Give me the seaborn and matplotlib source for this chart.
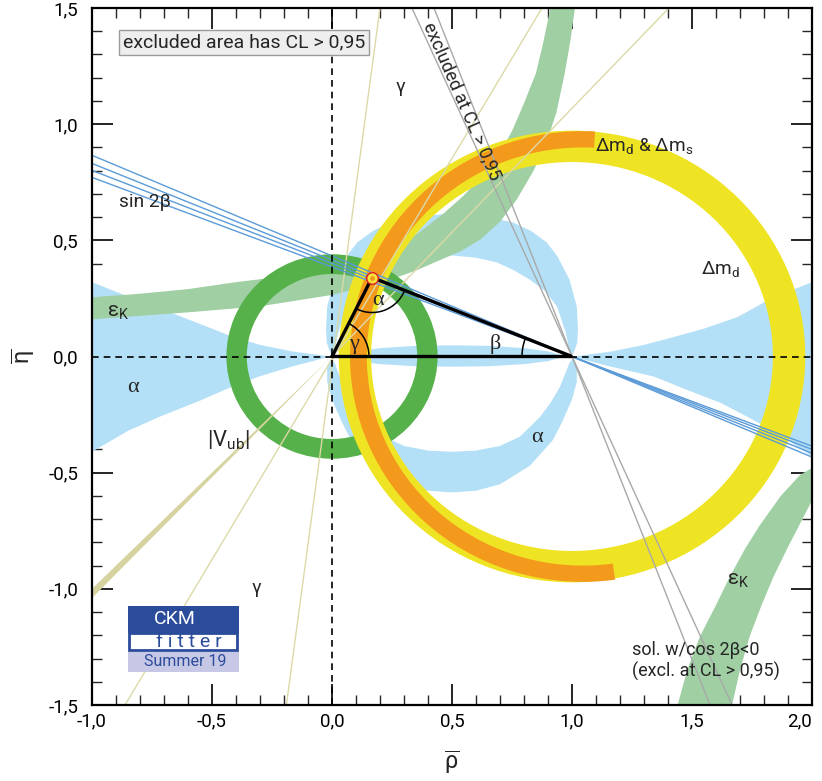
import numpy as np
import pandas as pd
import matplotlib
matplotlib.use("Agg")
import matplotlib.pyplot as plt
import seaborn as sns
from matplotlib.patches import Wedge, Rectangle, Arc
from matplotlib.ticker import MultipleLocator, FixedFormatter

# ---------- DATA ----------
# alpha constraint (light blue), several disconnected regions
ALPHA_LEFT_RHO = [-1.0, -0.83, -0.675, -0.55, -0.417, -0.3, -0.167, -0.08, -0.03, -0.005,
                  -0.03, -0.08, -0.167, -0.3, -0.417, -0.55, -0.72, -0.85, -1.0]
ALPHA_LEFT_ETA = [0.32, 0.25, 0.19, 0.14, 0.086, 0.05, 0.022, 0.01, 0.003, 0.0,
                  -0.006, -0.02, -0.043, -0.085, -0.13, -0.19, -0.26, -0.32, -0.41]
ALPHA_RIGHT_RHO = [2.0, 1.83, 1.69, 1.55, 1.41, 1.3, 1.167, 1.08, 1.03, 1.005,
                   1.03, 1.08, 1.167, 1.34, 1.47, 1.62, 1.75, 1.87, 2.0]
ALPHA_RIGHT_ETA = [0.32, 0.25, 0.17, 0.12, 0.08, 0.05, 0.022, 0.01, 0.003, 0.0,
                   -0.008, -0.022, -0.045, -0.086, -0.14, -0.2, -0.27, -0.34, -0.43]
ALPHA_UP_RHO = [-0.005, -0.022, -0.025, -0.02, 0.01, 0.06, 0.104, 0.17, 0.246, 0.37, 0.5,
                0.63, 0.754, 0.83, 0.896, 0.94, 0.99, 1.02, 1.025, 1.022, 1.005,
                0.99, 0.975, 0.9375, 0.89, 0.825, 0.76, 0.6875, 0.6, 0.5, 0.4, 0.3125,
                0.24, 0.175, 0.11, 0.0625, 0.025, 0.01]
ALPHA_UP_ETA = [0.01, 0.06, 0.116, 0.215, 0.33, 0.43, 0.49, 0.54, 0.577, 0.605, 0.615,
                0.605, 0.577, 0.54, 0.49, 0.43, 0.33, 0.215, 0.116, 0.06, 0.01,
                0.02, 0.1, 0.215, 0.28, 0.33, 0.37, 0.405, 0.425, 0.435, 0.425, 0.405,
                0.37, 0.33, 0.28, 0.215, 0.1, 0.02]
ALPHA_LOW_RHO = [-0.005, -0.02, -0.02, 0.0, 0.04, 0.08, 0.175, 0.3, 0.4, 0.5, 0.6, 0.7,
                 0.825, 0.92, 0.96, 1.0, 1.02, 1.02, 1.005,
                 0.99, 0.95, 0.91, 0.867, 0.783, 0.7, 0.6, 0.5, 0.4, 0.3, 0.217,
                 0.133, 0.09, 0.05, 0.01]
ALPHA_LOW_ETA = [-0.01, -0.043, -0.11, -0.185, -0.28, -0.36, -0.47, -0.55, -0.578, -0.585,
                 -0.578, -0.55, -0.47, -0.36, -0.28, -0.185, -0.11, -0.043, -0.01,
                 -0.026, -0.13, -0.2, -0.26, -0.345, -0.385, -0.405, -0.41, -0.405,
                 -0.385, -0.345, -0.26, -0.2, -0.13, -0.026]
ALPHA_SLIVER_RHO = [0.03, 0.1, 0.2, 0.35, 0.5, 0.65, 0.8, 0.9, 0.97,
                    0.9, 0.8, 0.65, 0.5, 0.35, 0.2, 0.1]
ALPHA_SLIVER_ETA = [0.0, 0.022, 0.036, 0.046, 0.048, 0.046, 0.036, 0.022, 0.0,
                    -0.02, -0.033, -0.042, -0.044, -0.042, -0.033, -0.02]

# epsilon_K constraint (light green), two hyperbola branches
EPSK_UP_RHO = [-1.0, -0.8, -0.6, -0.4, -0.2, 0.0, 0.15, 0.28, 0.38, 0.47, 0.546, 0.62,
               0.69, 0.75, 0.8, 0.85, 0.88, 0.91,
               1.012, 0.995, 0.97, 0.935, 0.89, 0.84, 0.77, 0.7, 0.62, 0.54, 0.45,
               0.35, 0.2, 0.0, -0.3, -0.6, -1.0]
EPSK_UP_ETA = [0.255, 0.27, 0.29, 0.32, 0.345, 0.375, 0.41, 0.47, 0.547, 0.62, 0.69, 0.77,
               0.86, 0.97, 1.09, 1.22, 1.35, 1.5,
               1.5, 1.37, 1.22, 1.05, 0.91, 0.8, 0.676, 0.58, 0.505, 0.455, 0.415,
               0.37, 0.315, 0.265, 0.216, 0.19, 0.16]
EPSK_LOW_RHO = [2.0, 1.95, 1.87, 1.78, 1.72, 1.658, 1.6, 1.533, 1.48, 1.44,
                1.667, 1.7, 1.74, 1.79, 1.84, 1.9, 1.96, 2.0]
EPSK_LOW_ETA = [-0.48, -0.51, -0.6, -0.73, -0.83, -0.947, -1.07, -1.205, -1.35, -1.5,
                -1.5, -1.35, -1.205, -1.07, -0.947, -0.82, -0.7, -0.62]

# rings: centre (rho, eta), outer radius, width
VUB_RING = (0.0, 0.0, 0.44, 0.085)
DMD_RING = (1.0, 0.0, 0.972, 0.135)
# Delta m_d & Delta m_s: partial ring (centre rho, centre eta, outer r, width, start, end deg)
DMS_ARC = (1.045, 0.0, 0.97, 0.07, 87, 278)

# sin 2beta lines: eta at rho=-1 and at rho=2
SIN2B_ETA_LEFT = [0.866, 0.831, 0.801, 0.771]
SIN2B_ETA_RIGHT = [-0.433, -0.416, -0.400, -0.386]
# cos 2beta < 0 solution (grey): rho at eta=+1.5 and eta=-1.5
COS2B_RHO_TOP = [0.333, 0.425]
COS2B_RHO_BOT = [1.667, 1.575]
# gamma lines through the origin: end points
GAMMA_RHO_A = [0.2, 0.875, 1.404]
GAMMA_ETA_A = [1.5, 1.5, 1.5]
GAMMA_RHO_B = [-0.19, -0.8625, 0.0]
GAMMA_ETA_B = [-1.5, -1.5, 0.0]
GAMMA_BAND_ETA_LEFT = [-1.0, -1.04]   # thick band end at rho=-1

# unitarity triangle apex
APEX_RHO = 0.167
APEX_ETA = 0.34

# axis ticks
X_TICKS = [-1.0, -0.5, 0.0, 0.5, 1.0, 1.5, 2.0]
X_TICK_LABELS = ["-1,0", "-0,5", "0,0", "0,5", "1,0", "1,5", "2,0"]
Y_TICKS = [-1.5, -1.0, -0.5, 0.0, 0.5, 1.0, 1.5]
Y_TICK_LABELS = ["-1,5", "-1,0", "-0,5", "0,0", "0,5", "1,0", "1,5"]

# ---------- STYLE ----------
sns.set_theme(style="ticks")
plt.rcParams["font.family"] = ["Roboto", "DejaVu Sans"]
plt.rcParams["mathtext.fontset"] = "custom"
plt.rcParams["mathtext.rm"] = "Roboto"
plt.rcParams["mathtext.it"] = "Roboto:italic"

C_ALPHA = "#b4e0f7"
C_EPSK = "#9fcfa2"
C_VUB = "#57b14a"
C_DMD = "#efe424"
C_DMS = "#f39a1d"
C_GAMMA = "#dcd9a8"
C_GAMMA_BAND = "#d6d3a0"
C_SIN2B = "#5b9bd8"
C_GREY = "#a8a8a8"
C_LOGO = "#2b4c9b"

fig = plt.figure(figsize=(8.22, 7.81), dpi=100)
ax = fig.add_axes([92 / 822, 1 - 705 / 781, 720 / 822, 697 / 781])
ax.set_xlim(-1.0, 2.0)
ax.set_ylim(-1.5, 1.5)

# ---------- FILLED CONSTRAINTS ----------
for rr, ee in [(ALPHA_LEFT_RHO, ALPHA_LEFT_ETA), (ALPHA_RIGHT_RHO, ALPHA_RIGHT_ETA),
               (ALPHA_UP_RHO, ALPHA_UP_ETA), (ALPHA_LOW_RHO, ALPHA_LOW_ETA),
               (ALPHA_SLIVER_RHO, ALPHA_SLIVER_ETA)]:
    ax.fill(rr, ee, color=C_ALPHA, lw=0, zorder=1)

for rr, ee in [(EPSK_UP_RHO, EPSK_UP_ETA), (EPSK_LOW_RHO, EPSK_LOW_ETA)]:
    ax.fill(rr, ee, color=C_EPSK, lw=0, zorder=2)

cx, cy, r, w = VUB_RING
ax.add_patch(Wedge((cx, cy), r, 0, 360, width=w, color=C_VUB, lw=0, zorder=3))
cx, cy, r, w = DMD_RING
ax.add_patch(Wedge((cx, cy), r, 0, 360, width=w, color=C_DMD, lw=0, zorder=4))
cx, cy, r, w, t1, t2 = DMS_ARC
ax.add_patch(Wedge((cx, cy), r, t1, t2, width=w, color=C_DMS, lw=0, zorder=5))

# gamma thick band (lower left)
ax.fill([0.0, -1.0, -1.0], [0.0] + GAMMA_BAND_ETA_LEFT, color=C_GAMMA_BAND, lw=0, zorder=6)

# ---------- LINE CONSTRAINTS (seaborn) ----------
rows = []
for i, (a, b) in enumerate(zip(SIN2B_ETA_LEFT, SIN2B_ETA_RIGHT)):
    rows += [("sin2b", i, -1.0, a), ("sin2b", i, 2.0, b)]
for i, (a, b) in enumerate(zip(COS2B_RHO_TOP, COS2B_RHO_BOT)):
    rows += [("cos2b", i, a, 1.5), ("cos2b", i, b, -1.5)]
for i in range(len(GAMMA_RHO_A)):
    rows += [("gamma", i, GAMMA_RHO_A[i], GAMMA_ETA_A[i]),
             ("gamma", i, GAMMA_RHO_B[i], GAMMA_ETA_B[i])]
lines = pd.DataFrame(rows, columns=["kind", "id", "rho", "eta"])

for kind, col, lw in [("gamma", C_GAMMA, 1.0), ("sin2b", C_SIN2B, 1.0), ("cos2b", C_GREY, 1.0)]:
    sns.lineplot(data=lines[lines.kind == kind], x="rho", y="eta", units="id",
                 estimator=None, sort=False, color=col, lw=lw, ax=ax, legend=False, zorder=6)

ax.axhline(0, color="black", lw=1.2, ls=(0, (4, 3)), zorder=7)
ax.axvline(0, color="black", lw=1.2, ls=(0, (4, 3)), zorder=7)

# ---------- UNITARITY TRIANGLE ----------
ax.plot([0, APEX_RHO, 1, 0], [0, APEX_ETA, 0, 0], color="black", lw=2.4,
        solid_joinstyle="miter", zorder=8)
sx, sy = 240.0, 232.3   # pixels per unit on each axis
a_left = np.degrees(np.arctan2(-APEX_ETA * sy, -APEX_RHO * sx))
a_right = np.degrees(np.arctan2(-APEX_ETA * sy, (1 - APEX_RHO) * sx))
ax.add_patch(Arc((APEX_RHO, APEX_ETA), 70 / sx, 70 / sy, theta1=a_left % 360,
                 theta2=a_right % 360, lw=1.1, color="black", zorder=8))
ax.add_patch(Arc((0, 0), 74 / sx, 74 / sy, theta1=0,
                 theta2=np.degrees(np.arctan2(APEX_ETA * sy, APEX_RHO * sx)),
                 lw=1.1, color="black", zorder=8))
ax.add_patch(Arc((1, 0), 100 / sx, 100 / sy, theta1=a_right + 180, theta2=180,
                 lw=1.1, color="black", zorder=8))
ax.scatter([APEX_RHO], [APEX_ETA], s=70, color="#f6e43a", edgecolor="#e02020",
           lw=1.0, zorder=9)
ax.scatter([APEX_RHO], [APEX_ETA], s=12, color=C_DMS, lw=0, zorder=10)

# ---------- LABELS ----------
fs = 13.8
greek = dict(fontsize=16, family=["Liberation Serif", "DejaVu Serif"], zorder=11)
ax.text(0.19, 0.24, "α", ha="center", va="center", **greek)
ax.text(0.09, 0.05, "γ", ha="center", va="center", **greek)
ax.text(0.68, 0.055, "β", ha="center", va="center", **greek)
ax.text(-0.83, -0.135, "α", ha="center", va="center", **greek)
ax.text(0.855, -0.35, "α", ha="center", va="center", **greek)
ax.text(0.283, 1.16, "γ", ha="center", va="center", fontsize=fs, zorder=11)
ax.text(-0.315, -0.995, "γ", ha="center", va="center", fontsize=fs, zorder=11)
ax.text(-0.89, 0.19, r"ε$_\mathrm{K}$", ha="center", va="center", fontsize=fs + 1, zorder=11)
ax.text(1.69, -0.965, r"ε$_\mathrm{K}$", ha="center", va="center", fontsize=fs + 1, zorder=11)
ax.text(-0.78, 0.665, "sin 2β", ha="center", va="center", fontsize=fs, zorder=11)
ax.text(-0.43, -0.36, r"|V$_\mathrm{ub}$|", ha="center", va="center", fontsize=fs + 2, zorder=11)
ax.text(1.30, 0.905, r"Δm$_\mathrm{d}$ & Δm$_\mathrm{s}$", ha="center", va="center",
        fontsize=fs, zorder=11)
ax.text(1.62, 0.375, r"Δm$_\mathrm{d}$", ha="center", va="center", fontsize=fs, zorder=11)
ax.text(1.25, -1.31, "sol. w/cos 2β<0\n(excl. at CL > 0,95)", ha="left", va="center",
        fontsize=fs - 0.8, linespacing=1.15, zorder=11)
ax.text(0.54, 1.10, "excluded at CL > 0,95", ha="center", va="center", rotation=-66.5,
        rotation_mode="anchor", fontsize=fs - 0.8, zorder=11)
ax.text(0.043, 0.951, "excluded area has CL > 0,95", transform=ax.transAxes,
        ha="left", va="center", fontsize=fs + 0.2, zorder=11,
        bbox=dict(boxstyle="square,pad=0.18", fc="#eeeeee", ec="#9a9a9a", lw=1.0))

# CKMfitter logo
ax.add_patch(Rectangle((0.05, 0.1033), 0.154, 0.0387, transform=ax.transAxes,
                       color=C_LOGO, lw=0, zorder=11))
ax.add_patch(Rectangle((0.052, 0.079), 0.15, 0.0243, transform=ax.transAxes,
                       fc="white", ec=C_LOGO, lw=2.0, zorder=11))
ax.add_patch(Rectangle((0.05, 0.0473), 0.154, 0.0287, transform=ax.transAxes,
                       color="#c7c7e6", lw=0, zorder=11))
ax.text(0.115, 0.123, "CKM", transform=ax.transAxes, ha="center", va="center",
        color="white", fontsize=14, zorder=12)
ax.text(0.135, 0.091, "f i t t e r", transform=ax.transAxes, ha="center", va="center",
        color=C_LOGO, fontsize=14, zorder=12)
ax.text(0.129, 0.062, "Summer 19", transform=ax.transAxes, ha="center", va="center",
        color=C_LOGO, fontsize=11.5, zorder=12)

# ---------- AXES ----------
ax.set_xticks(X_TICKS)
ax.set_yticks(Y_TICKS)
ax.set_xticklabels(X_TICK_LABELS)
ax.set_yticklabels(Y_TICK_LABELS)
ax.xaxis.set_minor_locator(MultipleLocator(0.1))
ax.yaxis.set_minor_locator(MultipleLocator(0.1))
ax.tick_params(which="major", direction="in", length=15, width=1.2, top=True, right=True,
               labelsize=13.5, colors="black")
ax.tick_params(which="minor", direction="in", length=7, width=1.0, top=True, right=True)
ax.tick_params(axis="y", which="major", pad=10)
ax.tick_params(axis="x", which="major", pad=5)
for lab in ax.get_xticklabels():
    if lab.get_text() == "2,0":
        lab.set_horizontalalignment("right")
        lab.set_x(2.0)
for s in ax.spines.values():
    s.set_linewidth(1.6)
    s.set_color("black")
    s.set_zorder(12)
ax.set_xlabel(r"$\overline{\mathrm{\rho}}$", fontsize=17, labelpad=14)
ax.set_ylabel(r"$\overline{\mathrm{\eta}}$", fontsize=17, labelpad=8)

fig.savefig("out.png", dpi=100)
